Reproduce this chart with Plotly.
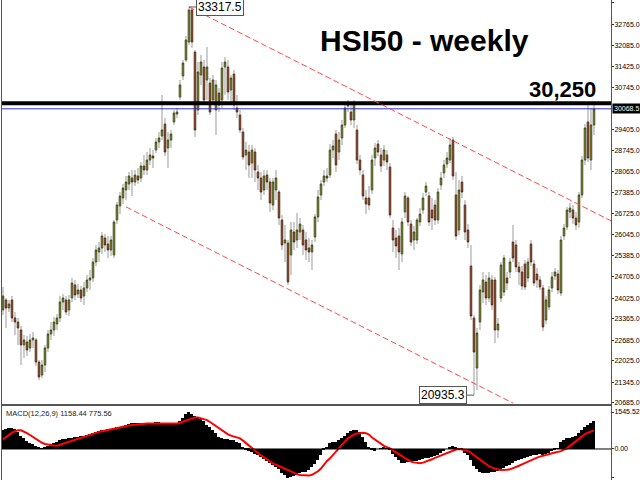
import plotly.graph_objects as go
from plotly.subplots import make_subplots

# ---------------- data (weekly candles) ----------------
open_ = [23651,23970,23715,23970,23396,23268,23013,22535,22630,22439,22694,22694,21992,21577,21896,22439,22886,23013,23204,23396,
         23906,23970,23651,24034,24449,24161,24289,24098,24353,24608,24672,25182,25501,25629,25948,25756,25565,25406,26522,26969,
         27224,27479,27670,27862,27734,27926,27862,28245,28117,28436,28564,28755,29010,29202,29584,28819,29074,29648,29903,30446,
         31116,31626,32200,33221,31881,30031,31148,31403,30988,30892,30350,30031,30573,30350,31403,31403,30669,31179,30095,29872,
         29329,28596,28691,28340,28691,28053,27862,27479,27958,27734,27000,27479,27415,26522,25788,25788,25406,26139,25884,26139,
         26203,25884,25629,25501,25980,26618,27320,27734,27926,27958,28755,29265,28691,29138,29553,30159,29967,29712,29393,28436,
         27958,27224,27224,27479,28500,28946,28596,28436,28596,28213,26267,25948,26012,25437,26777,27224,26394,25884,25884,26458,
         26841,27415,27288,26841,27000,26522,27639,28021,28308,28436,29074,27320,26203,27734,27000,26203,25055,23396,21801,23268,
         24225,24544,24034,24608,24608,23013,24034,24225,24672,24863,25820,25725,25023,24863,25118,24672,25756,25118,24799,24608,
         24353,23332,23747,24353,24736,24799,24193,26012,26299,26777,26841,26586,26458,27320,28436,29648,28436,29553]
high = [24385,24034,23970,24098,23587,23396,23141,22854,22822,22886,22949,22758,22056,22056,22535,23013,23268,23428,23523,24098,
        24161,24098,24130,24672,24608,24480,24417,24544,24768,24927,25310,25725,25820,26139,26075,26012,26012,26522,27096,27415,
        27670,27926,28053,28117,28117,28181,28372,28596,28691,28819,28755,29138,29329,30510,29776,29329,29393,30031,30095,30988,
        31626,32392,33317.5,33285,31945,31562,31786,31626,32041,31052,31148,30988,30733,31562,31722,31626,31148,31307,30510,30031,
        29457,29010,28915,28915,28819,28277,28053,28117,28117,27862,27862,28117,27479,26682,26363,25884,26458,26458,26745,26586,
        26363,26139,25948,25884,26713,27479,27798,28117,28181,28946,29074,29393,29329,29712,30254,30350,30286,30350,29553,28596,
        28117,27479,27607,28596,28978,29074,28819,28915,28755,28340,26522,26203,26267,26586,27415,27288,26522,26331,26586,26905,
        27383,27734,27415,27224,27160,27543,28053,28436,28691,29138,29170,28053,27798,27926,27160,26394,25725,23492,23077,24449,
        24863,24768,24863,24768,24704,23396,25182,25406,24863,25310,26363,25884,25182,25055,25246,25310,25884,25246,24991,24736,
        24449,24098,24417,24863,24991,24927,26012,26394,26937,27064,27000,26777,27415,28564,29584,30191,30095,30191]
low = [23492,23077,23587,23268,22854,22535,21896,22120,22184,22311,22439,21865,21418,21482,21673,22311,22694,22822,23013,23268,
       23651,23492,23460,23906,23970,24034,23906,23811,24225,24289,24544,25055,25182,25437,25501,25310,25374,25310,26394,26713,
       27032,27160,27479,27288,27607,27670,27734,27958,27958,28277,28181,28659,28819,29074,28564,28181,28819,29553,29776,30350,
       30988,31562,32105,32009,29170,29872,30829,30191,30350,29872,30191,29234,29967,30095,30510,30350,30191,30031,29776,29297,
       28436,28117,27862,27862,27734,27479,27160,27320,27479,26777,26841,27160,26363,25565,25182,24449,24768,25565,25629,25884,
       25406,25246,25182,24927,25820,26458,27160,27607,27734,27862,28500,28053,28436,28915,29457,29967,29553,29457,28308,27958,
       27160,26713,26841,27351,28245,28564,28053,28245,28117,26586,25501,25310,24927,25182,26586,26331,25693,25565,25756,26331,
       26713,27288,26331,26203,26363,26394,27479,27862,28181,28340,27798,25884,26044,27224,25884,25629,23332,20935.3,21099,23013,
       23874,23811,23906,23651,22598,22758,23906,24098,24289,24672,25182,24863,24449,24289,24289,24544,25055,24417,24353,24289,
       22981,23204,23651,24225,24608,24161,24098,25884,26203,26586,26394,26203,26267,27224,28277,28372,28117,29234]
close = [24098,23715,23842,23396,23268,23077,22535,22694,22375,22694,22758,21992,21514,21896,22439,22886,23013,23268,23396,23906,
         24034,23587,23970,24512,24130,24289,24034,24353,24608,24672,25182,25565,25629,26012,25725,25565,25884,26458,27000,27288,
         27543,27734,27926,27734,27958,27798,28245,28117,28436,28596,28500,29010,29138,29393,28691,29074,29265,29935,29967,30829,
         31530,32264,33221,32200,29393,31243,31562,30350,31403,29967,30988,30829,30191,31371,31562,30605,31052,30191,29967,29393,
         28532,28755,28277,28755,28117,27862,27415,27926,27734,27064,27734,27862,26586,25725,25884,24544,26203,25820,26203,26394,
         25725,25565,25501,25725,26618,27256,27670,27926,27862,28755,28883,28277,29074,29553,30095,30222,29712,30254,28436,28117,
         27288,27032,27000,28436,28819,28691,28245,28755,28372,26682,25884,25693,25501,26458,27288,26458,25820,26139,26522,26713,
         27224,27607,26458,26586,26522,27415,27862,28277,28500,28915,27926,26012,27479,27415,26139,25820,23460,22311,22918,24289,
         24608,24034,24672,23811,23013,23204,25087,25310,24512,25182,25310,25023,24863,24417,24385,25182,25182,24512,24608,24385,
         23109,23970,24289,24704,24863,24289,25884,26267,26841,26905,26586,26363,27320,28436,29457,28500,29553,30068.5]

macd_main = [800,830,860,890,840,720,560,440,330,260,190,120,50,20,60,140,200,250,300,360,
             400,430,450,480,500,520,540,560,580,620,660,700,740,780,800,820,840,880,910,930,
             960,990,1030,1070,1100,1100,1100,1100,1100,1100,1100,1110,1110,1090,1060,1040,1030,1050,1080,1150,
             1300,1450,1545.52,1480,1380,1320,1250,1150,1000,900,780,650,520,450,430,410,390,360,300,236,
             100,-10,-80,-130,-190,-250,-330,-400,-500,-600,-680,-760,-850,-990,-1100,-1197.65,-1170,-1140,-1080,-1015,
             -980,-945,-860,-765,-620,-460,-250,-40,100,236,280,310,380,445,550,653,740,800,810,700,
             500,300,100,-40,-70,0,30,50,40,-60,-200,-330,-460,-598,-570,-530,-528,-520,-490,-460,
             -420,-380,-360,-330,-290,-250,-180,-90,0,100,120,60,-40,-60,-150,-250,-450,-700,-850,-950,
             -1000,-1020,-1000,-980,-960,-920,-850,-780,-720,-650,-570,-500,-450,-400,-370,-330,-280,-250,-230,-220,
             -240,-220,-160,-100,-30,20,300,390,460,480,486,560,668,780,900,1000,1080,1158.44]
macd_signal = [400,500,600,680,740,780,780,730,660,584,500,420,330,260,210,180,160,145,139,180,
               240,290,330,370,410,450,490,520,560,600,640,680,715,740,770,800,830,855,870,890,
               920,950,980,1000,1020,1040,1055,1065,1070,1070,1070,1070,1070,1070,1070,1070,1068,1065,1070,1100,
               1150,1200,1250,1300,1320,1320,1290,1250,1209,1130,1040,950,850,760,680,610,560,520,480,445,
               350,240,120,30,-70,-170,-270,-360,-450,-530,-598,-660,-720,-780,-830,-880,-940,-1000,-1050,-1084,
               -1100,-1110,-1112,-1080,-1010,-930,-820,-650,-500,-389,-240,-80,60,200,320,445,530,600,650,681,
               680,660,600,480,390,300,210,130,80,28,-60,-150,-230,-300,-380,-460,-528,-560,-590,-598,
               -570,-530,-480,-430,-370,-320,-270,-210,-150,-100,-50,-20,0,-10,-40,-80,-150,-250,-350,-450,
               -550,-640,-720,-780,-830,-860,-875,-878,-870,-850,-810,-760,-700,-640,-580,-520,-460,-410,-360,-320,
               -280,-250,-220,-190,-150,-120,-90,-20,28,130,236,340,445,540,620,680,730,775.56]

price_ticks = [33445.0, 32765.0, 32085.0, 31425.0, 30745.0, 29405.0, 28745.0, 28065.0, 27385.0,
               26725.0, 26045.0, 25385.0, 24705.0, 24025.0, 23365.0, 22685.0, 22025.0, 21345.0, 20685.0]
macd_ticks = [1545.52, 0.0, -1197.65]
resistance = 30250
last_price = 30068.5
peak_idx, peak_val = 62, 33317.5
trough_idx, trough_val = 157, 20935.3
upper_trend = [(62, 33317.5), (203, 26480)]
lower_trend = [(41, 26940), (170, 20680)]

idx = list(range(len(close)))
body_top = [max(o, c) for o, c in zip(open_, close)]
body_bot = [min(o, c) for o, c in zip(open_, close)]

fig = make_subplots(rows=2, cols=1, shared_xaxes=True)

# wicks (grey)
fig.add_trace(go.Candlestick(
    x=idx, open=open_, high=high, low=low, close=close,
    increasing=dict(line=dict(color="#9a9a9a", width=1), fillcolor="#9a9a9a"),
    decreasing=dict(line=dict(color="#9a9a9a", width=1), fillcolor="#9a9a9a"),
    whiskerwidth=0, showlegend=False, hoverinfo="skip"), row=1, col=1)
# bodies (coloured, dark outline)
fig.add_trace(go.Candlestick(
    x=idx, open=open_, high=body_top, low=body_bot, close=close,
    increasing=dict(line=dict(color="#3a4210", width=0.7), fillcolor="#8c9c2a"),
    decreasing=dict(line=dict(color="#4a2410", width=0.7), fillcolor="#b0532b"),
    whiskerwidth=0, showlegend=False, hoverinfo="skip"), row=1, col=1)

fig.add_trace(go.Bar(x=idx, y=macd_main, marker=dict(color="black", line=dict(width=0)),
                     width=1.0, showlegend=False), row=2, col=1)
fig.add_trace(go.Scatter(x=idx, y=macd_signal, mode="lines",
                         line=dict(color="#ff0000", width=2), showlegend=False), row=2, col=1)

tick_font = dict(family="Liberation Sans", size=7, color="black")
xr = [-0.33, 202.67]
fig.update_xaxes(range=xr, showticklabels=False, showgrid=False, zeroline=False,
                 showline=True, linecolor="#555555", linewidth=1, mirror=True,
                 rangeslider_visible=False, ticks="", automargin=False)
common_y = dict(side="right", tickfont=tick_font, ticks="outside", ticklen=2, tickcolor="#333",
                ticklabelstandoff=-1, showgrid=False, zeroline=False, showline=True,
                linecolor="#555555", linewidth=1, mirror=True, automargin=False)
fig.update_layout(
    width=640, height=480,
    margin=dict(l=2, r=29, t=0, b=0, autoexpand=False),
    paper_bgcolor="white", plot_bgcolor="white",
    showlegend=False, bargap=0,
    yaxis=dict(domain=[1 - 404 / 480, 1], range=[20652, 33540],
               tickvals=price_ticks, ticktext=[f"{v:.1f}" for v in price_ticks], **common_y),
    yaxis2=dict(domain=[0, 74 / 480], range=[-1296, 1797],
                tickvals=macd_ticks, ticktext=[f"{v:.2f}" for v in macd_ticks], **common_y),
)

shapes = [
    dict(type="line", xref="x domain", yref="y", x0=0, x1=1, y0=resistance, y1=resistance,
         line=dict(color="black", width=4)),
    dict(type="line", xref="x domain", yref="y", x0=0, x1=1, y0=last_price, y1=last_price,
         line=dict(color="#3030c0", width=1)),
    dict(type="line", xref="x", yref="y", x0=upper_trend[0][0], y0=upper_trend[0][1],
         x1=upper_trend[1][0], y1=upper_trend[1][1],
         line=dict(color="#ff4a4a", width=1, dash="6px,3px")),
    dict(type="line", xref="x", yref="y", x0=lower_trend[0][0], y0=lower_trend[0][1],
         x1=lower_trend[1][0], y1=lower_trend[1][1],
         line=dict(color="#ff4a4a", width=1, dash="6px,3px")),
    dict(type="line", xref="x2 domain", yref="y2", x0=0, x1=1, y0=0, y1=0,
         line=dict(color="black", width=1)),
]
fig.update_layout(shapes=shapes)

annotations = [
    dict(text="<b>HSI50 - weekly</b>", xref="paper", yref="paper", x=0.693, y=0.915,
         xanchor="center", yanchor="middle", showarrow=False,
         font=dict(family="Liberation Sans", size=30, color="black")),
    dict(text="<b>30,250</b>", xref="paper", yref="paper", x=0.921, y=0.813,
         xanchor="center", yanchor="middle", showarrow=False,
         font=dict(family="Liberation Sans", size=22, color="black")),
    dict(text=f"{peak_val}", x=peak_idx, y=peak_val, xref="x", yref="y",
         showarrow=True, arrowhead=0, arrowwidth=1, arrowcolor="#555", ax=31, ay=0,
         bgcolor="white", bordercolor="#555", borderwidth=1, borderpad=1,
         font=dict(family="Liberation Sans", size=12, color="black")),
    dict(text=f"{trough_val}", x=trough_idx, y=trough_val, xref="x", yref="y",
         showarrow=True, arrowhead=0, arrowwidth=1, arrowcolor="#555", ax=-31, ay=0,
         bgcolor="white", bordercolor="#555", borderwidth=1, borderpad=1,
         font=dict(family="Liberation Sans", size=12, color="black")),
    dict(text=f"{last_price}", xref="paper", yref="y", x=1.0, y=last_price,
         xanchor="left", yanchor="middle", showarrow=False, xshift=1,
         bgcolor="black", font=dict(family="Liberation Sans", size=7, color="white"),
         borderpad=1),
    dict(text=f"MACD(12,26,9) {macd_main[-1]} {macd_signal[-1]}", xref="paper", yref="y2 domain",
         x=0.003, y=0.98, xanchor="left", yanchor="top", showarrow=False,
         font=dict(family="Liberation Sans", size=7.5, color="#222")),
]
fig.update_layout(annotations=annotations)

fig.write_html("out.html", config={"displayModeBar": False})

# remove the browser's default page margin so the 640x480 figure fills the window
with open("out.html", encoding="utf-8") as f:
    page = f.read()
page = page.replace("<head>", "<head><style>html,body{margin:0;padding:0;overflow:hidden;}</style>", 1)
with open("out.html", "w", encoding="utf-8") as f:
    f.write(page)
